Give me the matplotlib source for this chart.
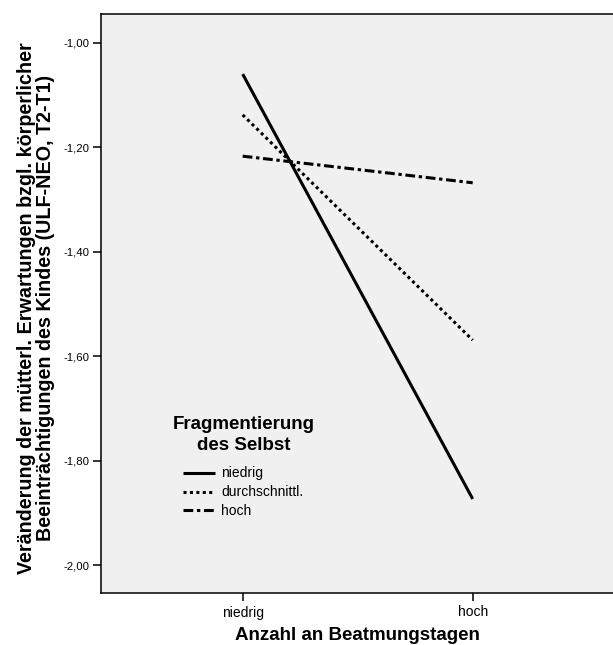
import matplotlib
matplotlib.use('Agg')
import matplotlib.pyplot as plt

plt.rcParams['font.family'] = ['Liberation Sans', 'DejaVu Sans']

# data
x_labels = ['niedrig', 'hoch']
x_pos = [0, 1]
groups = ['niedrig', 'durchschnittl.', 'hoch']
val_niedrig = [-1.060, -1.873]
val_durchschnittl = [-1.138, -1.569]
val_hoch = [-1.217, -1.268]
y_ticks = [-1.0, -1.2, -1.4, -1.6, -1.8, -2.0]

W, H = 613, 645
fig = plt.figure(figsize=(W / 100, H / 100), dpi=100)
fig.patch.set_facecolor('white')

def fx(px):
    return px / W

def fy(py):
    return 1 - py / H

ax = fig.add_axes([fx(101), fy(593), fx(613) - fx(101), fy(13.5) - fy(593)])
ax.set_facecolor('#f0f0f0')

lw = 2.2
ax.plot(x_pos, val_niedrig, color='black', lw=lw, linestyle='-',
        solid_capstyle='butt', label=groups[0])
ax.plot(x_pos, val_durchschnittl, color='black', lw=lw, linestyle=(0, (1, 1.1)),
        dash_capstyle='butt', label=groups[1])
ax.plot(x_pos, val_hoch, color='black', lw=lw, linestyle=(0, (3.2, 1.2, 1.1, 1.2)),
        dash_capstyle='butt', label=groups[2])

ax.set_xlim(-0.616, 1.610)
ax.set_ylim(-2.053, -0.944)
ax.set_xticks(x_pos)
ax.set_xticklabels(x_labels, fontsize=10)
ax.set_yticks(y_ticks)
ax.set_yticklabels(['{:.2f}'.format(v).replace('.', ',') for v in y_ticks], fontsize=8.2)

ax.tick_params(axis='x', direction='out', length=6, width=1.1, pad=3)
ax.tick_params(axis='y', direction='out', length=6, width=1.1, pad=2)

for side in ['left', 'top', 'bottom']:
    ax.spines[side].set_linewidth(1.1)
ax.spines['right'].set_visible(False)

ax.set_xlabel('Anzahl an Beatmungstagen', fontsize=13.5, fontweight='bold', labelpad=5.5)
ax.set_ylabel('Veränderung der mütterl. Erwartungen bzgl. körperlicher\n'
              'Beeinträchtigungen des Kindes (ULF-NEO, T2-T1)',
              fontsize=14.2, fontweight='bold', linespacing=1.0)
ax.yaxis.set_label_coords((55 - 101) / 512, (593 - 308) / 579.5)

# legend title and entries
fig.text(fx(244), fy(435), 'Fragmentierung\ndes Selbst', fontsize=13.5,
         fontweight='bold', ha='center', va='center', linespacing=1.25)
leg = ax.legend(loc='upper left', bbox_to_anchor=(fx(183), fy(466.5)),
                bbox_transform=fig.transFigure, frameon=False, fontsize=10,
                borderpad=0, borderaxespad=0, handlelength=2.3,
                handletextpad=0.45, labelspacing=0.35)

fig.savefig('out.png', dpi=100)
